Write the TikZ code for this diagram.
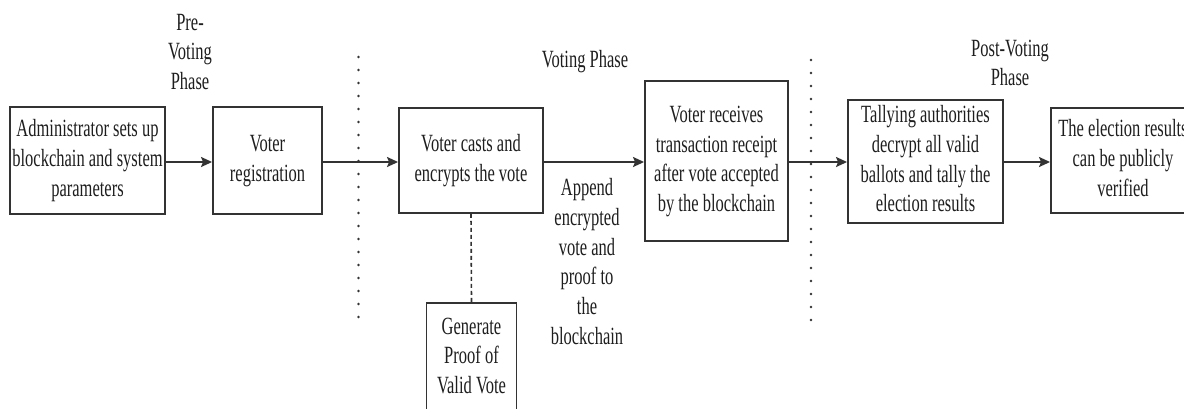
\documentclass[tikz,border=0pt]{standalone}
\usepackage{fontspec}
\setmainfont{Liberation Serif}
\usetikzlibrary{arrows.meta}
\definecolor{ln}{HTML}{333333}
\definecolor{tc}{HTML}{1E1E1E}
\newcommand{\tx}[1]{\scalebox{1}[1.5]{\fontsize{16.5}{19.8}\selectfont\begin{tabular}{@{}c@{}}#1\end{tabular}}}
\tikzset{
  box/.style={draw=ln, line width=1.9pt, inner sep=0pt, text=tc},
  lbl/.style={inner sep=0pt, text=tc},
  arr/.style={draw=ln, line width=1.8pt, -{Stealth[length=11pt,width=10pt,inset=2pt]}},
  dotline/.style={draw=ln, line width=2.8pt, line cap=round, dash pattern=on 0pt off 13pt},
  dashline/.style={draw=ln, line width=1.6pt, dash pattern=on 4pt off 3pt}
}
\begin{document}
\begin{tikzpicture}[x=1pt,y=-1pt]
\useasboundingbox (0,0) rectangle (1184,408);
\clip (0,0) rectangle (1184,408);
\fill[white] (0,0) rectangle (1184,408);
% boxes
\node[box, minimum width=155pt, minimum height=107pt] (b1) at (87.5,160.5) {\tx{Administrator sets up\\blockchain and system\\parameters}};
\node[box, minimum width=109pt, minimum height=107pt] (b2) at (267.5,160.5) {\tx{Voter\\registration}};
\node[box, minimum width=144pt, minimum height=105pt] (b3) at (471,160.5) {\tx{Voter casts and\\encrypts the vote}};
\node[box, minimum width=143pt, minimum height=160pt] (b4) at (716.5,161) {\tx{Voter receives\\transaction receipt\\after vote accepted\\by the blockchain}};
\node[box, minimum width=155pt, minimum height=123pt] (b5) at (925.5,161.5) {\tx{Tallying authorities\\decrypt all valid\\ballots and tally the\\election results}};
\node[box, minimum width=144pt, minimum height=105pt] (b6) at (1123,160.5) {\tx{The election results\\can be publicly\\verified}};
\node[box, minimum width=90pt, minimum height=110pt] (b7) at (471.5,358) {\tx{Generate\\Proof of\\Valid Vote}};
% labels
\node[lbl] (pre) at (190,54) {\tx{Pre-\\Voting\\Phase}};
\node[lbl] (vp) at (585,62) {\tx{Voting Phase}};
\node[lbl] (post) at (1010,65) {\tx{Post-Voting\\Phase}};
\node[lbl] (app) at (587,264) {\tx{Append\\encrypted\\vote and\\proof to\\the\\blockchain}};
% arrows
\coordinate (ya) at (0,162);
\draw[arr] (b1.east |- ya) -- (b2.west |- ya);
\draw[arr] (b2.east |- ya) -- (b3.west |- ya);
\draw[arr] (b3.east |- ya) -- (b4.west |- ya);
\draw[arr] (b4.east |- ya) -- (b5.west |- ya);
\draw[arr] (b5.east |- ya) -- (b6.west |- ya);
% dashed link
\draw[dashline] (b3.south) -- (b7.north);
% phase separators
\coordinate (d1t) at (358.5,57);
\coordinate (d1b) at (358.5,320);
\coordinate (d2t) at (811,60);
\coordinate (d2b) at (811,322);
\draw[dotline] (d1t) -- (d1b);
\draw[dotline] (d2t) -- (d2b);
\end{tikzpicture}
\end{document}
